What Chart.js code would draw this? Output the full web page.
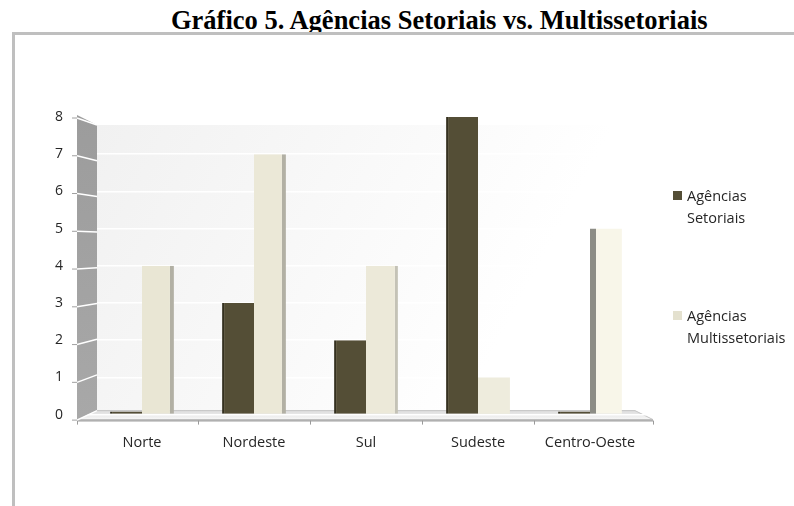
<!DOCTYPE html>
<html>
<head>
<meta charset="utf-8">
<script src="https://cdn.jsdelivr.net/npm/chart.js@4"></script>
<style>
  body { margin: 0; background: #fff; }
  #wrap { position: relative; width: 794px; height: 506px; overflow: hidden; }
  #title { position: absolute; left: 171px; top: 7px; white-space: nowrap;
           font: bold 26.5px "Liberation Serif", "Times New Roman", serif; line-height: 27px; color: #000; }
  #frame { position: absolute; left: 12px; top: 32px; width: 790px; height: 480px;
           border-top: 3px solid #bfbfbf; border-left: 3px solid #bfbfbf; }
  canvas { position: absolute; left: 0; top: 0; }
  .leg { position: absolute; left: 673px; font: 14.5px "Open Sans", sans-serif; color: #262626; }
  .leg i { position: absolute; left: 0; width: 9px; height: 9px; }
  .leg span { position: absolute; left: 14px; white-space: nowrap; line-height: 21.5px; }
</style>
</head>
<body>
<div id="wrap">
  <div id="title">Gráfico 5. Agências Setoriais vs. Multissetoriais</div>
  <div id="frame"></div>
  <canvas id="grafico" width="794" height="506"></canvas>
  <div id="legenda"></div>
</div>
<script>
const categorias = ['Norte', 'Nordeste', 'Sul', 'Sudeste', 'Centro-Oeste'];
const setoriais = [0, 3, 2, 8, 0];
const multissetoriais = [4, 7, 4, 1, 5];
const nomesSeries = [['Agências', 'Setoriais'], ['Agências', 'Multissetoriais']];

const corSetoriais = '#544e36';
const corMulti = ['#e9e6d4', '#ebe8d7', '#ece9d9', '#eeecdd', '#f8f6e9'];
const bordaMulti = [{ right: 4 }, { right: 4 }, { right: 3 }, 0, { left: 6 }];
const corBordaMulti = ['#b2b0a4', '#b2b0a4', '#c4c2b6', '#ccc', '#8d8d86'];

// legenda em HTML
const legenda = document.getElementById('legenda');
const legTops = [185, 305];
const legBoxes = [corSetoriais, '#e4e1cf'];
nomesSeries.forEach((linhas, i) => {
    const d = document.createElement('div');
    d.className = 'leg';
    d.style.top = legTops[i] + 'px';
    d.innerHTML = '<i style="top:6px;background:' + legBoxes[i] + '"></i><span>' + linhas.join('<br>') + '</span>';
    legenda.appendChild(d);
});

// caixa 3D: parede de fundo, parede lateral e piso
const caixa3d = {
    id: 'caixa3d',
    beforeDraw(chart) {
        const { ctx, chartArea: a, scales: { y } } = chart;
        const topo = y.getPixelForValue(8), base = y.getPixelForValue(0);
        const bL = a.left + 11, bR = a.right - 11, bT = topo + 8, bB = base - 4;
        const fL = a.left - 9, fR = a.right + 7, fB = base + 5;
        ctx.save();
        // fundo
        const g = ctx.createLinearGradient(bL, bT, bR, bB);
        g.addColorStop(0, '#f1f1f1');
        g.addColorStop(0.75, '#ffffff');
        ctx.fillStyle = g;
        ctx.fillRect(bL, bT, bR - bL, bB - bT);
        // piso
        const gp = ctx.createLinearGradient(0, bB, 0, fB);
        gp.addColorStop(0, '#dcdcdc');
        gp.addColorStop(1, '#f8f8f8');
        ctx.fillStyle = gp;
        ctx.beginPath();
        ctx.moveTo(bL, bB); ctx.lineTo(bR, bB); ctx.lineTo(fR, fB); ctx.lineTo(fL, fB); ctx.closePath();
        ctx.fill();
        ctx.strokeStyle = '#c6c6c6';
        ctx.lineWidth = 1;
        ctx.stroke();
        ctx.fillStyle = '#b0b0b0';
        ctx.fillRect(fL, fB, fR - fL, 2);
        // marcas do eixo x
        const xs = chart.scales.x;
        const marcas = [fL, fR];
        for (let i = 1; i < categorias.length; i++) {
            marcas.push((xs.getPixelForValue(i - 1) + xs.getPixelForValue(i)) / 2);
        }
        ctx.strokeStyle = '#9a9a9a';
        marcas.forEach(mx => {
            ctx.beginPath();
            ctx.moveTo(Math.round(mx) + 0.5, fB + 1);
            ctx.lineTo(Math.round(mx) + 0.5, fB + 5);
            ctx.stroke();
        });
        ctx.restore();
    },
    beforeDatasetsDraw(chart) {
        const { ctx, chartArea: a, scales: { y } } = chart;
        const topo = y.getPixelForValue(8), base = y.getPixelForValue(0);
        const bL = a.left + 11, bT = topo + 8, bB = base - 4;
        const fL = a.left - 9, fT = topo - 2, fB = base + 5;
        ctx.save();
        const gw = ctx.createLinearGradient(0, fT, 0, fB);
        gw.addColorStop(0, '#9c9c9c');
        gw.addColorStop(1, '#a8a8a8');
        ctx.fillStyle = gw;
        ctx.beginPath();
        ctx.moveTo(fL, fT); ctx.lineTo(bL, bT); ctx.lineTo(bL, bB); ctx.lineTo(fL, fB); ctx.closePath();
        ctx.fill();
        // linhas brancas na parede e marcas do eixo y
        const fTick = topo + 1, fBase = base + 5.5;
        y.ticks.forEach(t => {
            const k = t.value / 8;
            const yf = fBase - k * (fBase - fTick);
            const yb = bB - k * (bB - bT);
            ctx.strokeStyle = '#ffffff';
            ctx.lineWidth = 1.5;
            ctx.beginPath(); ctx.moveTo(fL, yf); ctx.lineTo(bL, yb); ctx.stroke();
            ctx.strokeStyle = '#a0a0a0';
            ctx.lineWidth = 1;
            ctx.beginPath(); ctx.moveTo(fL - 5, yf); ctx.lineTo(fL, yf); ctx.stroke();
        });
        ctx.restore();
    }
};

new Chart(document.getElementById('grafico').getContext('2d'), {
    type: 'bar',
    data: {
        labels: categorias,
        datasets: [
            {
                label: nomesSeries[0].join(' '),
                data: setoriais,
                backgroundColor: corSetoriais,
                borderColor: '#34301f',
                borderWidth: { left: 2 },
                borderSkipped: false,
                minBarLength: 3
            },
            {
                label: nomesSeries[1].join(' '),
                data: multissetoriais,
                backgroundColor: corMulti,
                borderColor: corBordaMulti,
                borderWidth: bordaMulti,
                borderSkipped: false
            }
        ]
    },
    options: {
        responsive: false,
        animation: false,
        layout: { padding: { left: 32, right: 148, top: 117, bottom: 34 } },
        datasets: { bar: { categoryPercentage: 0.57, barPercentage: 1.0 } },
        plugins: {
            legend: { display: false },
            title: { display: false },
            tooltip: { enabled: false }
        },
        scales: {
            x: {
                grid: { display: false, drawTicks: false },
                border: { display: false },
                ticks: { padding: 20, color: '#262626', font: { family: 'Open Sans', size: 14.5 } }
            },
            y: {
                min: 0,
                max: 8,
                grid: { color: '#ffffff', lineWidth: 1.5, drawTicks: false },
                border: { display: false },
                ticks: { stepSize: 1, padding: 23, color: '#262626', font: { family: 'Open Sans', size: 14 } }
            }
        }
    },
    plugins: [caixa3d]
});
</script>
</body>
</html>
